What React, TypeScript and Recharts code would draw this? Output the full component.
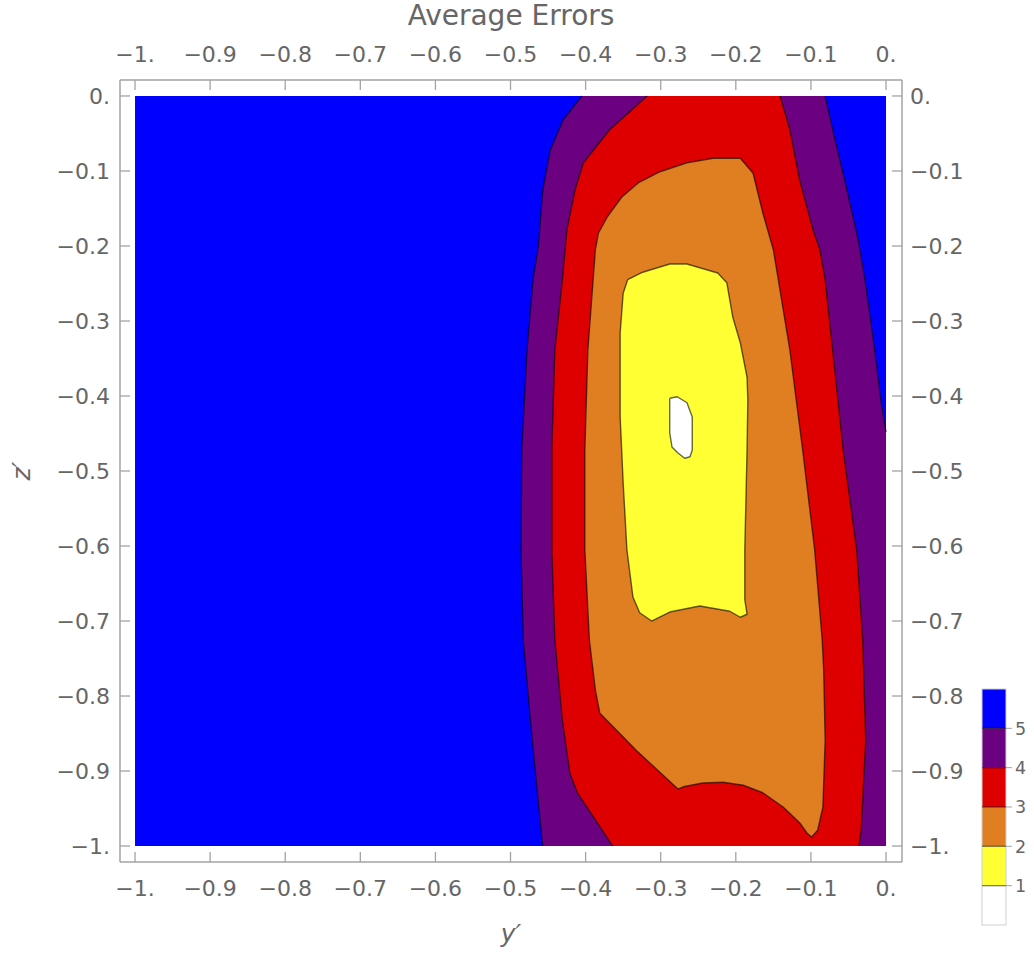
import React from 'react';
import { ScatterChart, Scatter, XAxis, YAxis } from 'recharts';

type Pt = [number, number]; // [y′, z′]

const FONT = '"DejaVu Sans", sans-serif';
const TEXT = '#666666';
const FRAME = '#a3a3a3';
const EDGE = '#000000';

const BLUE = '#0000ff';
const PURPLE = '#6b0080';
const RED = '#de0000';
const ORANGE = '#e07f22';
const YELLOW = '#ffff33';
const WHITE = '#ffffff';

const tickValues = [-1, -0.9, -0.8, -0.7, -0.6, -0.5, -0.4, -0.3, -0.2, -0.1, 0];
const tickLabels = ['−1.', '−0.9', '−0.8', '−0.7', '−0.6', '−0.5', '−0.4', '−0.3', '−0.2', '−0.1', '0.'];

const legendColors = [BLUE, PURPLE, RED, ORANGE, YELLOW, WHITE];
const legendLevels = ['5', '4', '3', '2', '1'];

// plotted region, then contour boundaries
const plotCorners: Pt[] = [[-1, 0], [0, 0], [0, -1], [-1, -1]];

const purpleLeft: Pt[] = [
  [-0.405, 0], [-0.43, -0.032], [-0.447, -0.072], [-0.457, -0.125], [-0.463, -0.201],
  [-0.47, -0.245], [-0.478, -0.339], [-0.485, -0.472], [-0.486, -0.605], [-0.483, -0.725],
  [-0.471, -0.859], [-0.458, -0.992], [-0.457, -1],
];
const purpleRight: Pt[] = [
  [-0.081, 0], [-0.071, -0.045], [-0.052, -0.125], [-0.037, -0.192], [-0.028, -0.245],
  [-0.015, -0.339], [-0.007, -0.405], [0, -0.448],
];

const redLeft: Pt[] = [
  [-0.318, 0], [-0.368, -0.045], [-0.403, -0.089], [-0.414, -0.125], [-0.425, -0.179],
  [-0.431, -0.245], [-0.441, -0.339], [-0.445, -0.472], [-0.445, -0.605], [-0.441, -0.725],
  [-0.431, -0.832], [-0.421, -0.903], [-0.411, -0.929], [-0.387, -0.965], [-0.364, -1],
];
const redRight: Pt[] = [
  [-0.141, 0], [-0.128, -0.045], [-0.115, -0.112], [-0.097, -0.179], [-0.088, -0.205],
  [-0.081, -0.245], [-0.071, -0.339], [-0.057, -0.472], [-0.039, -0.605], [-0.031, -0.725],
  [-0.027, -0.859], [-0.033, -0.979], [-0.036, -1],
];

const orangeOutline: Pt[] = [
  [-0.33, -0.116], [-0.301, -0.101], [-0.265, -0.089], [-0.23, -0.083], [-0.194, -0.083],
  [-0.177, -0.103], [-0.164, -0.156], [-0.15, -0.205], [-0.128, -0.339], [-0.111, -0.472],
  [-0.095, -0.605], [-0.085, -0.725], [-0.083, -0.765], [-0.081, -0.859], [-0.084, -0.948],
  [-0.091, -0.979], [-0.099, -0.988], [-0.105, -0.983], [-0.115, -0.969], [-0.137, -0.948],
  [-0.164, -0.929], [-0.19, -0.919], [-0.217, -0.915], [-0.244, -0.916], [-0.27, -0.921],
  [-0.277, -0.924], [-0.332, -0.873], [-0.381, -0.823], [-0.387, -0.792], [-0.395, -0.725],
  [-0.401, -0.605], [-0.401, -0.472], [-0.397, -0.339], [-0.387, -0.205], [-0.383, -0.183],
  [-0.371, -0.161], [-0.352, -0.135],
];

const yellowOutline: Pt[] = [
  [-0.344, -0.245], [-0.324, -0.235], [-0.288, -0.224], [-0.265, -0.224], [-0.224, -0.236],
  [-0.212, -0.249], [-0.204, -0.295], [-0.194, -0.329], [-0.185, -0.375], [-0.184, -0.405],
  [-0.185, -0.472], [-0.188, -0.605], [-0.188, -0.672], [-0.185, -0.691], [-0.194, -0.695],
  [-0.208, -0.687], [-0.248, -0.68], [-0.288, -0.688], [-0.312, -0.7], [-0.328, -0.689],
  [-0.337, -0.668], [-0.345, -0.605], [-0.35, -0.516], [-0.354, -0.428], [-0.354, -0.316],
  [-0.35, -0.263],
];

const whiteOutline: Pt[] = [
  [-0.288, -0.403], [-0.278, -0.401], [-0.265, -0.409], [-0.258, -0.428], [-0.258, -0.472],
  [-0.261, -0.481], [-0.268, -0.483], [-0.277, -0.476], [-0.285, -0.468], [-0.288, -0.449],
  [-0.288, -0.419],
];

const X_DOMAIN: [number, number] = [-1.02, 0.0213];
const Y_DOMAIN: [number, number] = [-1.0213, 0.0213];

const toRows = (pts: Pt[]) => pts.map(([yp, zp]) => ({ yp, zp }));
const closed = (pts: Pt[]) => [...pts, pts[0]];

const fills: { key: string; color: string; pts: Pt[] }[] = [
  { key: 'blue', color: BLUE, pts: plotCorners },
  { key: 'purple', color: PURPLE, pts: [...purpleLeft, [0, -1], ...[...purpleRight].reverse()] },
  { key: 'red', color: RED, pts: [...redLeft, ...[...redRight].reverse()] },
  { key: 'orange', color: ORANGE, pts: orangeOutline },
  { key: 'yellow', color: YELLOW, pts: yellowOutline },
  { key: 'white', color: WHITE, pts: whiteOutline },
];

const contours: { key: string; pts: Pt[] }[] = [
  { key: 'pl', pts: purpleLeft },
  { key: 'pr', pts: purpleRight },
  { key: 'rl', pts: redLeft },
  { key: 'rr', pts: redRight },
  { key: 'o', pts: closed(orangeOutline) },
  { key: 'y', pts: closed(yellowOutline) },
  { key: 'w', pts: closed(whiteOutline) },
];

const NoDot = () => null;

function FrameTick(props: any) {
  const { x, y, payload, side } = props;
  const i = tickValues.indexOf(payload.value);
  const label = i >= 0 ? tickLabels[i] : String(payload.value);
  const txt = { fill: TEXT, fontSize: 22, fontFamily: FONT };
  const L = 10;
  if (side === 'bottom') {
    return (
      <g>
        <line x1={x} y1={y} x2={x} y2={y - L} stroke={FRAME} strokeWidth={1.3} />
        <text x={x} y={y + 26} dy="0.36em" textAnchor="middle" {...txt}>{label}</text>
      </g>
    );
  }
  if (side === 'top') {
    return (
      <g>
        <line x1={x} y1={y} x2={x} y2={y + L} stroke={FRAME} strokeWidth={1.3} />
        <text x={x} y={y - 26} dy="0.36em" textAnchor="middle" {...txt}>{label}</text>
      </g>
    );
  }
  if (side === 'left') {
    return (
      <g>
        <line x1={x} y1={y} x2={x + L} y2={y} stroke={FRAME} strokeWidth={1.3} />
        <text x={x - 10} y={y} dy="0.36em" textAnchor="end" {...txt}>{label}</text>
      </g>
    );
  }
  return (
    <g>
      <line x1={x} y1={y} x2={x - L} y2={y} stroke={FRAME} strokeWidth={1.3} />
      <text x={x + 8} y={y} dy="0.36em" textAnchor="start" {...txt}>{label}</text>
    </g>
  );
}

function ColorBar() {
  const x0 = 7;
  const y0 = 9;
  const w = 24;
  const h = 39.33;
  return (
    <svg width={60} height={260} style={{ position: 'absolute', left: 975, top: 680 }}>
      {legendColors.map((c, i) => (
        <rect key={c} x={x0} y={y0 + i * h} width={w} height={h} fill={c} />
      ))}
      <rect x={x0} y={y0} width={w} height={h * legendColors.length} fill="none" stroke="#d0d0d0" strokeWidth={1} />
      {legendLevels.map((lv, i) => {
        const yy = y0 + (i + 1) * h;
        return (
          <g key={lv}>
            <line x1={x0} x2={x0 + w} y1={yy} y2={yy} stroke={EDGE} strokeOpacity={0.5} strokeWidth={1.3} />
            <line x1={x0 + w} x2={x0 + w + 6} y1={yy} y2={yy} stroke={FRAME} strokeWidth={1} />
            <text x={x0 + w + 9} y={yy} dy="0.36em" fontSize={17.5} fontFamily={FONT} fill={TEXT}>{lv}</text>
          </g>
        );
      })}
    </svg>
  );
}

export default function App() {
  const axisLine = { stroke: FRAME, strokeWidth: 1.5 };
  return (
    <div style={{ position: 'absolute', left: 0, top: 0, width: 1034, height: 959, background: '#fff' }}>
      <ScatterChart width={1034} height={959} margin={{ top: 30, right: 72, bottom: 47, left: 60 }}>
        <XAxis
          xAxisId="b" orientation="bottom" type="number" dataKey="yp" height={50}
          domain={X_DOMAIN} allowDataOverflow ticks={tickValues} interval={0}
          tickSize={0} tickMargin={0} tickLine={false} axisLine={axisLine}
          tick={(p: any) => <FrameTick {...p} side="bottom" />}
          label={{ value: 'y′', position: 'bottom', offset: 12, fill: TEXT, fontSize: 25, fontFamily: FONT, fontStyle: 'italic' }}
        />
        <XAxis
          xAxisId="t" orientation="top" type="number" dataKey="yp" height={50}
          domain={X_DOMAIN} allowDataOverflow ticks={tickValues} interval={0}
          tickSize={0} tickMargin={0} tickLine={false} axisLine={axisLine}
          tick={(p: any) => <FrameTick {...p} side="top" />}
          label={{ value: 'Average Errors', position: 'top', offset: 5, fill: TEXT, fontSize: 28, fontFamily: FONT }}
        />
        <YAxis
          yAxisId="l" orientation="left" type="number" dataKey="zp" width={60}
          domain={Y_DOMAIN} allowDataOverflow ticks={tickValues} interval={0}
          tickSize={0} tickMargin={0} tickLine={false} axisLine={axisLine}
          tick={(p: any) => <FrameTick {...p} side="left" />}
          label={{ value: 'z′', position: 'left', offset: 39, angle: -90, textAnchor: 'middle', fill: TEXT, fontSize: 25, fontFamily: FONT, fontStyle: 'italic' }}
        />
        <YAxis
          yAxisId="r" orientation="right" type="number" dataKey="zp" width={60}
          domain={Y_DOMAIN} allowDataOverflow ticks={tickValues} interval={0}
          tickSize={0} tickMargin={0} tickLine={false} axisLine={axisLine}
          tick={(p: any) => <FrameTick {...p} side="right" />}
        />
        {fills.map((f) => (
          <Scatter
            key={f.key}
            name={f.key}
            data={toRows(f.pts)}
            xAxisId="b"
            yAxisId="l"
            shape={NoDot}
            line={{ fill: f.color, stroke: 'none' }}
            lineType="joint"
            lineJointType="linear"
            legendType="none"
            isAnimationActive={false}
          />
        ))}
        {contours.map((c) => (
          <Scatter
            key={c.key}
            name={c.key}
            data={toRows(c.pts)}
            xAxisId="b"
            yAxisId="l"
            shape={NoDot}
            line={{ fill: 'none', stroke: EDGE, strokeOpacity: 0.6, strokeWidth: 1.4, strokeLinejoin: 'round' }}
            lineType="joint"
            lineJointType="linear"
            legendType="none"
            isAnimationActive={false}
          />
        ))}
      </ScatterChart>
      <ColorBar />
    </div>
  );
}
